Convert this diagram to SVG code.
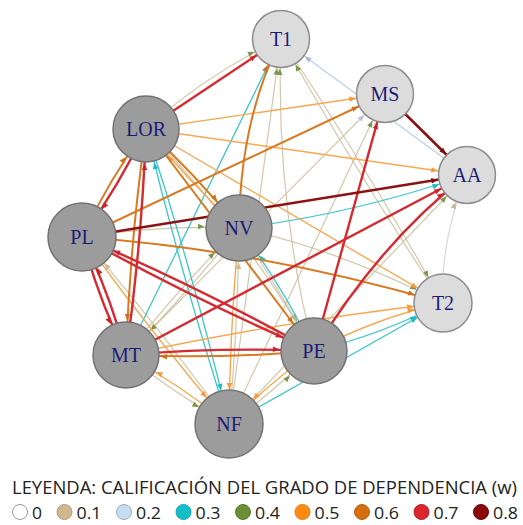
<svg xmlns="http://www.w3.org/2000/svg" xmlns:xlink="http://www.w3.org/1999/xlink" width="523" height="525" viewBox="0 0 523 525">
<style>
.e{fill:none;stroke-linecap:round}
.w0{stroke:#d4d4d4;stroke-width:1.1}
.w1{stroke:#cfc2a2;stroke-width:1.2;opacity:.9}
.w2{stroke:#b9cfe8;stroke-width:1.2}
.w3{stroke:#3cc6cd;stroke-width:1.3}
.w4{stroke:#6f8f3c;stroke-width:1.3}
.w5{stroke:#f6a851;stroke-width:1.4}
.w6{stroke:#d87a22;stroke-width:2}
.w7{stroke:#d42a30;stroke-width:2.4}
.w8{stroke:#8a1212;stroke-width:2.6}
.nl circle{fill:#dcdcdc;stroke:#8c8c8c;stroke-width:1.5}
.nd circle{fill:#9c9c9c;stroke:#727272;stroke-width:1.5}
.node text{font-family:"Liberation Serif","Times New Roman",serif;font-size:20px;fill:#1c1c78;text-anchor:middle}
.leg{font-family:"Open Sans","Liberation Sans",sans-serif;fill:#222}
</style>
<defs>
<path id="hL" d="M-29.5,0 L-36,-2.7 L-36,2.7Z"/>
<path id="hD" d="M-34.5,0 L-41,-2.7 L-41,2.7Z"/>
<marker id="m1L" markerUnits="userSpaceOnUse" orient="auto" markerWidth="1" markerHeight="1" overflow="visible"><use href="#hL" fill="#c6b48e"/></marker>
<marker id="m1D" markerUnits="userSpaceOnUse" orient="auto" markerWidth="1" markerHeight="1" overflow="visible"><use href="#hD" fill="#c6b48e"/></marker>
<marker id="m2L" markerUnits="userSpaceOnUse" orient="auto" markerWidth="1" markerHeight="1" overflow="visible"><use href="#hL" fill="#b3b3dd"/></marker>
<marker id="m3L" markerUnits="userSpaceOnUse" orient="auto" markerWidth="1" markerHeight="1" overflow="visible"><use href="#hL" fill="#1cbcc4"/></marker>
<marker id="m3D" markerUnits="userSpaceOnUse" orient="auto" markerWidth="1" markerHeight="1" overflow="visible"><use href="#hD" fill="#1cbcc4"/></marker>
<marker id="m4L" markerUnits="userSpaceOnUse" orient="auto" markerWidth="1" markerHeight="1" overflow="visible"><use href="#hL" fill="#6a8c38"/></marker>
<marker id="m4D" markerUnits="userSpaceOnUse" orient="auto" markerWidth="1" markerHeight="1" overflow="visible"><use href="#hD" fill="#6a8c38"/></marker>
<marker id="m5L" markerUnits="userSpaceOnUse" orient="auto" markerWidth="1" markerHeight="1" overflow="visible"><use href="#hL" fill="#f59a3a"/></marker>
<marker id="m5D" markerUnits="userSpaceOnUse" orient="auto" markerWidth="1" markerHeight="1" overflow="visible"><use href="#hD" fill="#f59a3a"/></marker>
<marker id="m6L" markerUnits="userSpaceOnUse" orient="auto" markerWidth="1" markerHeight="1" overflow="visible"><use href="#hL" fill="#d0701a"/></marker>
<marker id="m6D" markerUnits="userSpaceOnUse" orient="auto" markerWidth="1" markerHeight="1" overflow="visible"><use href="#hD" fill="#d0701a"/></marker>
<marker id="m7L" markerUnits="userSpaceOnUse" orient="auto" markerWidth="1" markerHeight="1" overflow="visible"><use href="#hL" fill="#cf2129"/></marker>
<marker id="m7D" markerUnits="userSpaceOnUse" orient="auto" markerWidth="1" markerHeight="1" overflow="visible"><use href="#hD" fill="#cf2129"/></marker>
<marker id="m8L" markerUnits="userSpaceOnUse" orient="auto" markerWidth="1" markerHeight="1" overflow="visible"><use href="#hL" fill="#7e0c0c"/></marker>
</defs>
<rect width="523" height="525" fill="#ffffff"/>
<g id="connectors">
<path class="e w0" d="M443,303 Q440,240 467,175" marker-end="url(#m1L)"/>
<path class="e w1" d="M146,129 Q205,75 281,39" marker-end="url(#m4L)"/>
<path class="e w1" d="M239,228 Q276,285 314,351" marker-end="url(#m4D)"/>
<path class="e w1" d="M281,39 Q365,165 443,303" marker-end="url(#m4L)"/>
<path class="e w1" d="M443,303 Q355,170 281,39" marker-end="url(#m4L)"/>
<path class="e w1" d="M314,351 Q275,200 281,39" marker-end="url(#m4L)"/>
<path class="e w1" d="M229,424 L281,39" marker-end="url(#m4L)"/>
<path class="e w1" d="M126,355 L385,94" marker-end="url(#m2L)"/>
<path class="e w1" d="M229,424 L385,94" marker-end="url(#m4L)"/>
<path class="e w1" d="M229,424 L467,175" marker-end="url(#m4L)"/>
<path class="e w1" d="M82,237 Q160,225 239,228" marker-end="url(#m4D)"/>
<path class="e w1" d="M229,424 Q159,327 82,237" marker-end="url(#m1D)"/>
<path class="e w1" d="M229,424 Q238,326 239,228" marker-end="url(#m1D)"/>
<path class="e w1" d="M126,355 Q175,394 229,424" marker-end="url(#m4D)"/>
<path class="e w1" d="M229,424 Q275,391 314,351" marker-end="url(#m4D)"/>
<path class="e w1" d="M239,228 Q186,295 126,355" marker-end="url(#m4D)"/>
<path class="e w1" d="M126,355 Q179,288 239,228" marker-end="url(#m4D)"/>
<path class="e w1" d="M239,228 Q340,250 443,303" marker-end="url(#m4L)"/>
<path class="e w1" d="M146,129 Q240,225 314,351" marker-end="url(#m1D)"/>
<path class="e w2" d="M467,175 L281,39" marker-end="url(#m2L)"/>
<path class="e w3" d="M239,228 Q350,215 467,175" marker-end="url(#m3L)"/>
<path class="e w3" d="M314,351 Q380,335 443,303" marker-end="url(#m3L)"/>
<path class="e w3" d="M314,351 Q282,285 239,228" marker-end="url(#m3D)"/>
<path class="e w3" d="M126,355 L281,39" marker-end="url(#m3L)"/>
<path class="e w3" d="M146,129 Q194,275 229,424" marker-end="url(#m3D)"/>
<path class="e w3" d="M229,424 Q182,278 146,129" marker-end="url(#m3D)"/>
<path class="e w3" d="M229,424 L443,303" marker-end="url(#m3L)"/>
<path class="e w5" d="M146,129 L385,94" marker-end="url(#m5L)"/>
<path class="e w5" d="M146,129 L467,175" marker-end="url(#m5L)"/>
<path class="e w5" d="M146,129 L443,303" marker-end="url(#m5L)"/>
<path class="e w5" d="M314,351 Q375,318 443,303" marker-end="url(#m5L)"/>
<path class="e w5" d="M126,355 Q290,320 443,303" marker-end="url(#m5L)"/>
<path class="e w5" d="M239,228 Q189,182 146,129" marker-end="url(#m5D)"/>
<path class="e w5" d="M82,237 Q152,334 229,424" marker-end="url(#m5D)"/>
<path class="e w5" d="M239,228 Q230,326 229,424" marker-end="url(#m5D)"/>
<path class="e w5" d="M229,424 Q180,385 126,355" marker-end="url(#m5D)"/>
<path class="e w5" d="M314,351 Q268,384 229,424" marker-end="url(#m5D)"/>
<path class="e w6" d="M239,228 Q240,120 281,39" marker-end="url(#m6L)"/>
<path class="e w6" d="M82,237 L385,94" marker-end="url(#m6L)"/>
<path class="e w6" d="M82,237 Q262,250 443,303" marker-end="url(#m6L)"/>
<path class="e w6" d="M146,129 L314,351" marker-end="url(#m6D)"/>
<path class="e w6" d="M146,129 Q196,175 239,228" marker-end="url(#m6D)"/>
<path class="e w6" d="M314,351 Q220,359 126,355" marker-end="url(#m6D)"/>
<path class="e w6" d="M146,129 Q130,242 126,355" marker-end="url(#m6D)"/>
<path class="e w6" d="M82,237 Q109,180 146,129" marker-end="url(#m6D)"/>
<path class="e w7" d="M146,129 L281,39" marker-end="url(#m7L)"/>
<path class="e w7" d="M314,351 L385,94" marker-end="url(#m7L)"/>
<path class="e w7" d="M314,351 Q381,241 467,175" marker-end="url(#m7L)"/>
<path class="e w7" d="M126,355 L467,175" marker-end="url(#m7L)"/>
<path class="e w7" d="M82,237 Q195,300 314,351" marker-end="url(#m7D)"/>
<path class="e w7" d="M314,351 Q201,288 82,237" marker-end="url(#m7D)"/>
<path class="e w7" d="M126,355 Q220,347 314,351" marker-end="url(#m7D)"/>
<path class="e w7" d="M126,355 Q142,242 146,129" marker-end="url(#m7D)"/>
<path class="e w7" d="M82,237 Q98,298 126,355" marker-end="url(#m7D)"/>
<path class="e w7" d="M126,355 Q110,294 82,237" marker-end="url(#m7D)"/>
<path class="e w7" d="M146,129 Q119,186 82,237" marker-end="url(#m7D)"/>
<path class="e w8" d="M385,94 L467,175" marker-end="url(#m8L)"/>
<path class="e w8" d="M82,237 L467,175" marker-end="url(#m8L)"/>
</g>
<g id="T1" class="node nl"><circle cx="281" cy="39" r="28.5"/><text x="281" y="46">T1</text></g>
<g id="MS" class="node nl"><circle cx="385" cy="94" r="28.5"/><text x="385" y="101">MS</text></g>
<g id="AA" class="node nl"><circle cx="467" cy="175" r="28.5"/><text x="467" y="182">AA</text></g>
<g id="T2" class="node nl"><circle cx="443" cy="303" r="29"/><text x="443" y="310">T2</text></g>
<g id="LOR" class="node nd"><circle cx="146" cy="129" r="33"/><text x="146" y="136">LOR</text></g>
<g id="PL" class="node nd"><circle cx="82" cy="237" r="34"/><text x="82" y="244">PL</text></g>
<g id="NV" class="node nd"><circle cx="239" cy="228" r="33"/><text x="239" y="235">NV</text></g>
<g id="MT" class="node nd"><circle cx="126" cy="355" r="33"/><text x="126" y="362">MT</text></g>
<g id="PE" class="node nd"><circle cx="314" cy="351" r="33"/><text x="314" y="358">PE</text></g>
<g id="NF" class="node nd"><circle cx="229" cy="424" r="34"/><text x="229" y="431">NF</text></g>
<g id="legend">
<text class="leg" x="12" y="494" font-size="17.5" textLength="505" lengthAdjust="spacingAndGlyphs">LEYENDA: CALIFICACIÓN DEL GRADO DE DEPENDENCIA (w)</text>
<g stroke-width="1">
<circle cx="20" cy="512" r="7.5" fill="#ffffff" stroke="#9a9a9a"/>
<circle cx="64.5" cy="512" r="7.5" fill="#cfb88f" stroke="#b09a74"/>
<circle cx="124" cy="512" r="7.5" fill="#c8dcf3" stroke="#98aec6"/>
<circle cx="183.5" cy="512" r="7.5" fill="#15bec6" stroke="#10a8b0"/>
<circle cx="243" cy="512" r="7.5" fill="#6a8f37" stroke="#5a7c2e"/>
<circle cx="302.5" cy="512" r="7.5" fill="#ff8a12" stroke="#e67a08"/>
<circle cx="362" cy="512" r="7.5" fill="#d4700f" stroke="#b8600c"/>
<circle cx="421.5" cy="512" r="7.5" fill="#d9262f" stroke="#bb1f27"/>
<circle cx="481" cy="512" r="7.5" fill="#8c0707" stroke="#700505"/>
</g>
<g class="leg" font-size="17">
<text x="32" y="518.5" textLength="10" lengthAdjust="spacingAndGlyphs">0</text>
<text x="76.5" y="518.5" textLength="25" lengthAdjust="spacingAndGlyphs">0.1</text>
<text x="136" y="518.5" textLength="25" lengthAdjust="spacingAndGlyphs">0.2</text>
<text x="195.5" y="518.5" textLength="25" lengthAdjust="spacingAndGlyphs">0.3</text>
<text x="255" y="518.5" textLength="25" lengthAdjust="spacingAndGlyphs">0.4</text>
<text x="314.5" y="518.5" textLength="25" lengthAdjust="spacingAndGlyphs">0.5</text>
<text x="374" y="518.5" textLength="25" lengthAdjust="spacingAndGlyphs">0.6</text>
<text x="433.5" y="518.5" textLength="25" lengthAdjust="spacingAndGlyphs">0.7</text>
<text x="493" y="518.5" textLength="25" lengthAdjust="spacingAndGlyphs">0.8</text>
</g>
</g>
</svg>
